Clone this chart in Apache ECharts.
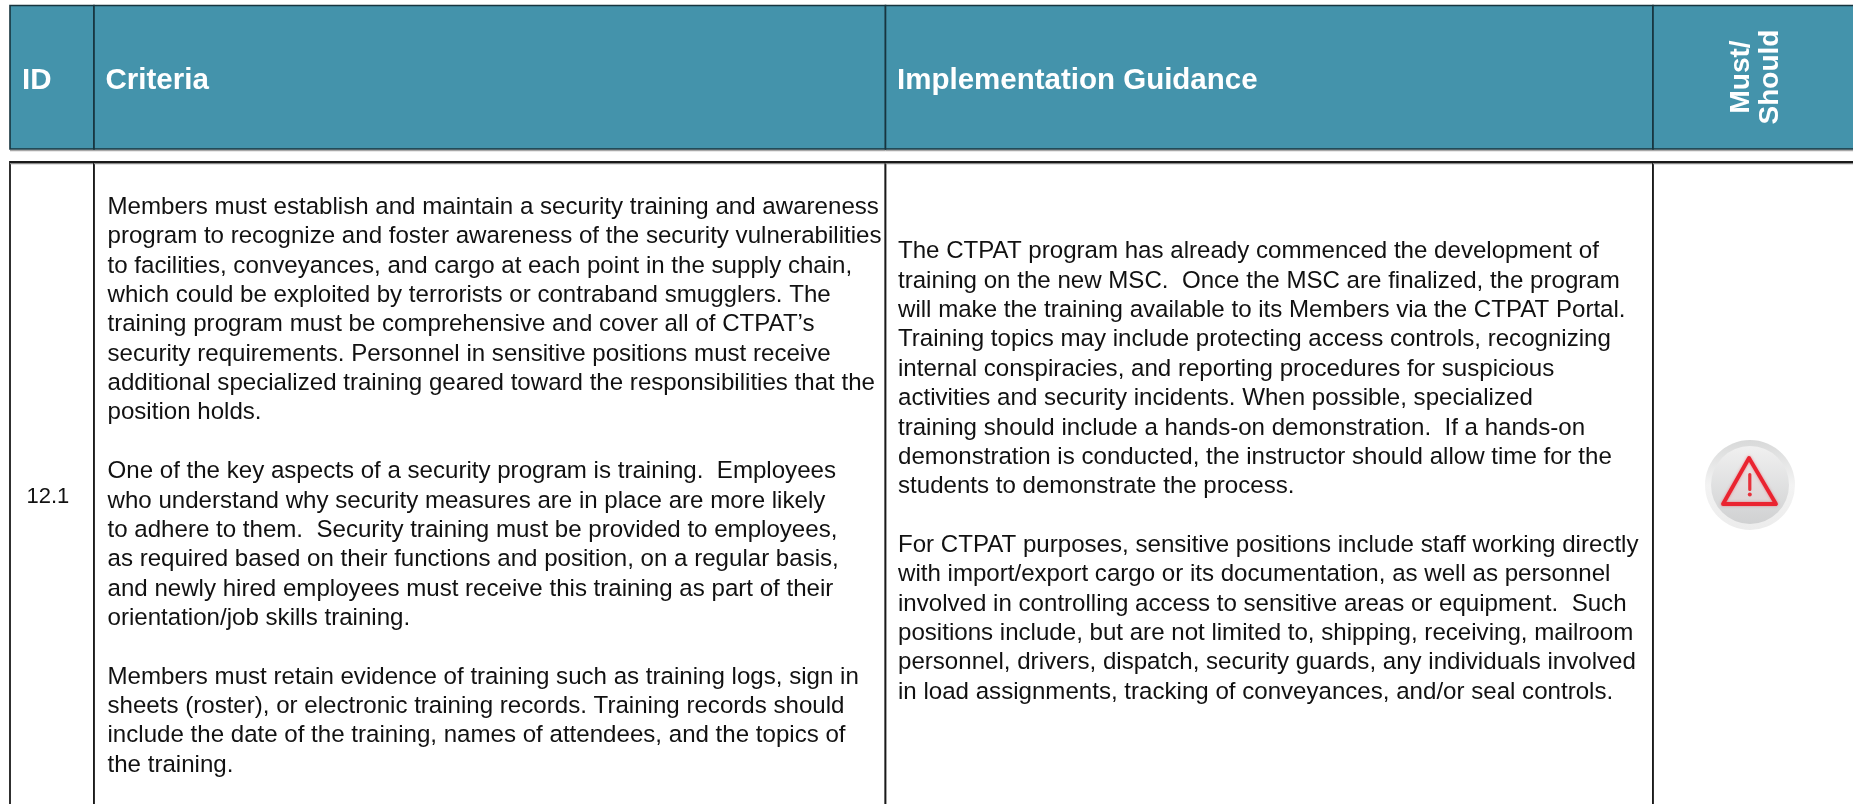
<!DOCTYPE html>
<html><head><meta charset="utf-8">
<style>html,body{margin:0;padding:0;background:#fff}#c{width:1853px;height:804px}</style>
<script src="https://cdn.jsdelivr.net/npm/echarts@6/dist/echarts.min.js"></script>
</head><body><div id="c"></div>
<script>
const ids = ["12.1"];
const headers = ["ID", "Criteria", "Implementation Guidance"];
const rotatedHeader = ["Must/", "Should"];
const criteria = [
"Members must establish and maintain a security training and awareness",
"program to recognize and foster awareness of the security vulnerabilities",
"to facilities, conveyances, and cargo at each point in the supply chain,",
"which could be exploited by terrorists or contraband smugglers. The",
"training program must be comprehensive and cover all of CTPAT\u2019s",
"security requirements. Personnel in sensitive positions must receive",
"additional specialized training geared toward the responsibilities that the",
"position holds.",
"",
"One of the key aspects of a security program is training.  Employees",
"who understand why security measures are in place are more likely",
"to adhere to them.  Security training must be provided to employees,",
"as required based on their functions and position, on a regular basis,",
"and newly hired employees must receive this training as part of their",
"orientation/job skills training.",
"",
"Members must retain evidence of training such as training logs, sign in",
"sheets (roster), or electronic training records. Training records should",
"include the date of the training, names of attendees, and the topics of",
"the training."];
const guidance = [
"The CTPAT program has already commenced the development of",
"training on the new MSC.  Once the MSC are finalized, the program",
"will make the training available to its Members via the CTPAT Portal.",
"Training topics may include protecting access controls, recognizing",
"internal conspiracies, and reporting procedures for suspicious",
"activities and security incidents. When possible, specialized",
"training should include a hands-on demonstration.  If a hands-on",
"demonstration is conducted, the instructor should allow time for the",
"students to demonstrate the process.",
"",
"For CTPAT purposes, sensitive positions include staff working directly",
"with import/export cargo or its documentation, as well as personnel",
"involved in controlling access to sensitive areas or equipment.  Such",
"positions include, but are not limited to, shipping, receiving, mailroom",
"personnel, drivers, dispatch, security guards, any individuals involved",
"in load assignments, tracking of conveyances, and/or seal controls."];

// layout
const W = 1853, H = 804, FONT = '"Liberation Sans", Arial, sans-serif';
const colX = [10, 94, 885.5, 1653, 1860];
const headY = [5.5, 149], bodyY = [162, 830];
const HEADER = '#4493ab', BODY_INK = '#111', PITCH = 29.36, SIZE = 24.1;

const textRows = [];
headers.forEach((t, i) => textRows.push({t, x: [22, 105.5, 897][i], y: 80.5, size: 29.5, weight: 'bold', fill: '#fff'}));
rotatedHeader.forEach((t, i) => textRows.push({t, x: [1741, 1770][i], y: 77, size: 28, weight: 'bold', fill: '#fff', rot: true}));
textRows.push({t: ids[0], x: 26.5, y: 497, size: 22, fill: BODY_INK});
criteria.forEach((t, i) => { if (t) textRows.push({t, x: 107.5, y: 207.3 + PITCH * i, size: SIZE, fill: BODY_INK}); });
guidance.forEach((t, i) => { if (t) textRows.push({t, x: 898, y: 251.7 + PITCH * i, size: SIZE, fill: BODY_INK}); });

function renderCell(params, api) {
  const isHead = api.value(0) === 0;
  const band = isHead ? headY : bodyY;
  const col = api.value(1);
  const a = api.coord([colX[col], band[0]]), b = api.coord([colX[col + 1], band[1]]);
  const rect = {type: 'rect', shape: {x: a[0], y: a[1], width: b[0] - a[0], height: b[1] - a[1]},
    style: {fill: isHead ? HEADER : '#fff', stroke: isHead ? '#17343e' : '#1a1a1a', lineWidth: isHead ? 1.6 : 1.8}};
  const edgeY = isHead ? b[1] + 1.6 : a[1] + 1.6;
  const edge = {type: 'line', shape: {x1: a[0], y1: edgeY, x2: b[0], y2: edgeY},
    style: {stroke: isHead ? '#a8a8a8' : '#8a8a8a', lineWidth: 1.2}};
  return {type: 'group', children: [rect, edge]};
}
const cellData = [];
for (let c = 0; c < 4; c++) { cellData.push([0, c]); cellData.push([1, c]); }

function renderText(params, api) {
  const r = textRows[params.dataIndex];
  const p = api.coord([r.x, r.y]);
  return {type: 'text', x: p[0], y: p[1], rotation: r.rot ? Math.PI / 2 : 0,
    style: {text: r.t, x: 0, y: 0, fill: r.fill, font: (r.weight || 'normal') + ' ' + r.size + 'px ' + FONT,
      align: r.rot ? 'center' : 'left', verticalAlign: 'middle'}};
}

function renderIcon(params, api) {
  const c = api.coord([1750, 485]);
  const R = 45;
  return {type: 'group', x: c[0], y: c[1], children: [
    {type: 'circle', shape: {cx: 0, cy: 0, r: R}, style: {fill: {type: 'linear', x: 0, y: 0, x2: 0, y2: 1, colorStops: [{offset: 0, color: '#d8d9d9'}, {offset: .5, color: '#f3f3f3'}, {offset: 1, color: '#ececec'}]}}},
    {type: 'circle', shape: {cx: 0, cy: 0, r: R - 6}, style: {fill: {type: 'linear', x: 0, y: 0, x2: 0, y2: 1, colorStops: [{offset: 0, color: '#f0f0f0'}, {offset: 1, color: '#d0d1d2'}]}}},
    {type: 'polygon', shape: {points: [[-1, -27], [26, 19], [-27, 19]]}, style: {fill: 'rgba(255,255,255,0.1)', stroke: '#ea2430', lineWidth: 3.8, lineJoin: 'round', shadowBlur: 2.5, shadowColor: 'rgba(234,36,48,0.5)'}},
    {type: 'rect', shape: {x: -1.8, y: -12, width: 3.2, height: 18, r: 1.5}, style: {fill: '#e8303a'}},
    {type: 'circle', shape: {cx: -0.2, cy: 9.5, r: 2}, style: {fill: '#e8303a'}}
  ]};
}

const chart = echarts.init(document.getElementById('c'), null, {renderer: 'canvas'});
chart.setOption({
  animation: false, backgroundColor: '#fff',
  grid: {left: 0, right: 0, top: 0, bottom: 0},
  xAxis: {type: 'value', min: 0, max: W, show: false},
  yAxis: {type: 'value', min: 0, max: H, inverse: true, show: false},
  tooltip: {show: false},
  series: [
    {type: 'custom', name: 'cells', clip: true, silent: true, encode: {x: 1, y: 0}, data: cellData, renderItem: renderCell, z: 1},
    {type: 'custom', name: 'icon', silent: true, data: [[1750, 485]], renderItem: renderIcon, z: 2},
    {type: 'custom', name: 'text', silent: true, data: textRows.map(r => [r.x, r.y]), renderItem: renderText, z: 3}
  ]
});
</script></body></html>
